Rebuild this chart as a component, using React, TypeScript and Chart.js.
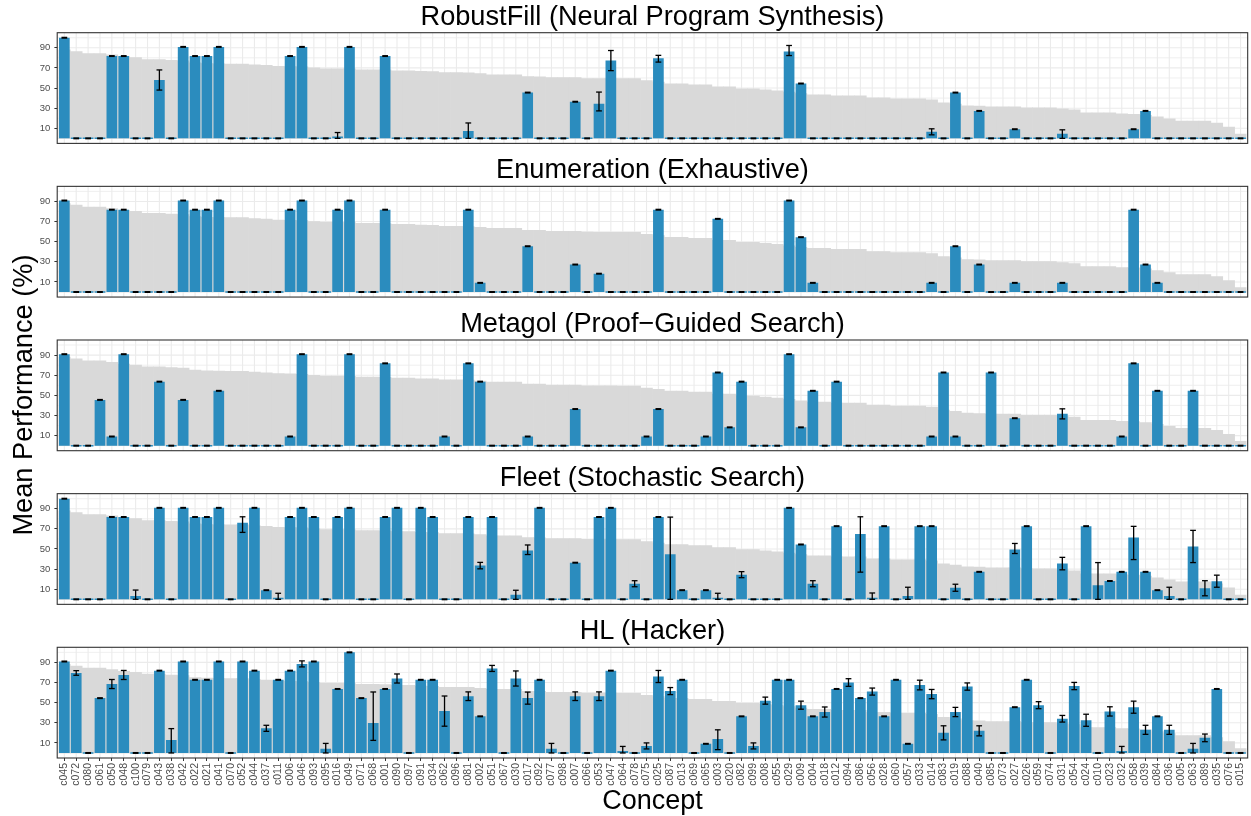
import React, { useEffect, useRef } from "react";
import { Chart, registerables } from "chart.js";

Chart.register(...registerables);

const FONT = '"Liberation Sans", Arial, Helvetica, sans-serif';

// ---------------- data ----------------
const concepts = [
  "c045","c072","c080","c061","c050","c048","c100","c079","c043","c038",
  "c042","c022","c021","c041","c070","c052","c044","c037","c011","c006",
  "c046","c093","c095","c016","c049","c071","c068","c001","c090","c097",
  "c091","c034","c062","c096","c081","c002","c051","c067","c030","c017",
  "c092","c077","c098","c007","c066","c053","c047","c064","c078","c075",
  "c025","c087","c013","c069","c065","c003","c020","c082","c099","c008",
  "c055","c029","c009","c004","c018","c012","c094","c086","c056","c028",
  "c060","c057","c033","c014","c083","c019","c088","c040","c085","c073",
  "c027","c026","c059","c074","c031","c054","c024","c010","c023","c032",
  "c058","c039","c084","c036","c005","c063","c089","c035","c076","c015",
];

// grey background bars (same in every panel)
const referenceScores = [
  88, 86.3, 84.3, 84.3, 82.9, 81, 80.2, 78.3, 78.3, 77.5,
  77, 75, 74.3, 74, 73.9, 73.9, 73, 72.5, 71.6, 71.3,
  71, 70, 69.2, 69.2, 69, 68.2, 68.2, 68, 67.2, 67.2,
  66.5, 66.3, 65.3, 65.3, 65.1, 64.3, 63.2, 63.2, 63.2, 61.3,
  61.2, 60.3, 60.3, 60.3, 59.5, 59.4, 59.4, 59.3, 59.3, 57.3,
  56, 54.3, 54.3, 53.3, 53.3, 51.3, 51.3, 49.3, 49.3, 48.3,
  47.3, 46, 44.5, 43.3, 43.3, 42.3, 42.3, 42.3, 40.3, 40.3,
  39.3, 39.3, 39.3, 38.3, 35.3, 34, 32.3, 32, 31.3, 31.3,
  31.3, 30.3, 30.3, 30.3, 29.3, 28.3, 25.3, 25.3, 25.3, 24.3,
  24, 23, 21.3, 19.3, 17.3, 17.3, 17.3, 15.3, 11.3, 4.3,
];

const robustFillMeans = [
  100, 0, 0, 0, 81.8, 81.8, 0, 0, 58, 0,
  90.9, 81.8, 81.8, 90.9, 0, 0, 0, 0, 0, 81.8,
  90.9, 0, 0, 1.8, 90.9, 0, 0, 81.8, 0, 0,
  0, 0, 0, 0, 7.3, 0, 0, 0, 0, 45.5,
  0, 0, 0, 36.4, 0, 34.3, 77.3, 0, 0, 0,
  79.5, 0, 0, 0, 0, 0, 0, 0, 0, 0,
  0, 86.3, 54.5, 0, 0, 0, 0, 0, 0, 0,
  0, 0, 0, 6.5, 0, 45.5, 0, 27.3, 0, 0,
  9.1, 0, 0, 0, 4.5, 0, 0, 0, 0, 0,
  9.1, 27.3, 0, 0, 0, 0, 0, 0, 0, 0,
];
const robustFillErrors = [
  0, 0, 0, 0, 0, 0, 0, 0, 10, 0,
  0, 0, 0, 0, 0, 0, 0, 0, 0, 0,
  0, 0, 0, [1.8, 4], 0, 0, 0, 0, 0, 0,
  0, 0, 0, 0, [7.3, 8], 0, 0, 0, 0, 0,
  0, 0, 0, 0, 0, [7, 11.7], 10, 0, 0, 0,
  [3.7, 3], 0, 0, 0, 0, 0, 0, 0, 0, 0,
  0, [4, 6], 0, 0, 0, 0, 0, 0, 0, 0,
  0, 0, 0, 3, 0, 0, 0, 0, 0, 0,
  0, 0, 0, 0, [4.5, 4], 0, 0, 0, 0, 0,
  0, 0, 0, 0, 0, 0, 0, 0, 0, 0,
];

const enumerationMeans = [
  90.9, 0, 0, 0, 81.8, 81.8, 0, 0, 0, 0,
  90.9, 81.8, 81.8, 90.9, 0, 0, 0, 0, 0, 81.8,
  90.9, 0, 0, 81.8, 90.9, 0, 0, 81.8, 0, 0,
  0, 0, 0, 0, 81.8, 9.1, 0, 0, 0, 45.5,
  0, 0, 0, 27.3, 0, 18.2, 0, 0, 0, 0,
  81.8, 0, 0, 0, 0, 72.7, 0, 0, 0, 0,
  0, 90.9, 54.5, 9.1, 0, 0, 0, 0, 0, 0,
  0, 0, 0, 9.1, 0, 45.5, 0, 27.3, 0, 0,
  9.1, 0, 0, 0, 9.1, 0, 0, 0, 0, 0,
  81.8, 27.3, 9.1, 0, 0, 0, 0, 0, 0, 0,
];
const enumerationErrors = new Array(100).fill(0);

const metagolMeans = [
  90.9, 0, 0, 45.5, 9.1, 90.9, 0, 0, 63.6, 0,
  45.5, 0, 0, 54.5, 0, 0, 0, 0, 0, 9.1,
  90.9, 0, 0, 0, 90.9, 0, 0, 81.8, 0, 0,
  0, 0, 9.1, 0, 81.8, 63.6, 0, 0, 0, 9.1,
  0, 0, 0, 36.4, 0, 0, 0, 0, 0, 9.1,
  36.4, 0, 0, 0, 9.1, 72.7, 18.2, 63.6, 0, 0,
  0, 90.9, 18.2, 54.5, 0, 63.6, 0, 0, 0, 0,
  0, 0, 0, 9.1, 72.7, 9.1, 0, 0, 72.7, 0,
  27.3, 0, 0, 0, 31.6, 0, 0, 0, 0, 9.1,
  81.8, 0, 54.5, 0, 0, 54.5, 0, 0, 0, 0,
];
const metagolErrors = [
  0, 0, 0, 0, 0, 0, 0, 0, 0, 0,
  0, 0, 0, 0, 0, 0, 0, 0, 0, 0,
  0, 0, 0, 0, 0, 0, 0, 0, 0, 0,
  0, 0, 0, 0, 0, 0, 0, 0, 0, 0,
  0, 0, 0, 0, 0, 0, 0, 0, 0, 0,
  0, 0, 0, 0, 0, 0, 0, 0, 0, 0,
  0, 0, 0, 0, 0, 0, 0, 0, 0, 0,
  0, 0, 0, 0, 0, 0, 0, 0, 0, 0,
  0, 0, 0, 0, 5, 0, 0, 0, 0, 0,
  0, 0, 0, 0, 0, 0, 0, 0, 0, 0,
];

const fleetMeans = [
  100, 0, 0, 0, 81.8, 81.8, 3.3, 0, 90.9, 0,
  90.9, 81.8, 81.8, 90.9, 0, 76, 90.9, 9.1, 1.5, 81.8,
  90.9, 81.8, 0, 81.8, 90.9, 0, 0, 81.8, 90.9, 0,
  90.9, 81.8, 0, 0, 81.8, 33.5, 81.8, 0, 4.5, 48.5,
  90.9, 0, 0, 36.4, 0, 81.8, 90.9, 0, 15.5, 0,
  81.8, 44.7, 9.1, 0, 9.1, 1.5, 0, 24.5, 0, 0,
  0, 90.9, 54.5, 15.5, 0, 72.7, 0, 65, 1.3, 72.7,
  0, 3.3, 72.7, 72.7, 0, 11.5, 0, 27.3, 0, 0,
  49.5, 72.7, 0, 0, 35.5, 0, 72.7, 14, 18.2, 27.3,
  61.5, 27.3, 9.1, 3.3, 0, 52.5, 11, 18, 0, 0,
];
const fleetErrors = [
  0, 0, 0, 0, 0, 0, [3.3, 5.9], 0, 0, 0,
  0, 0, 0, 0, 0, [9.5, 6], 0, 0, [1.5, 4.5], 0,
  0, 0, 0, 0, 0, 0, 0, 0, 0, 0,
  0, 0, 0, 0, 0, 3.2, 0, 0, 4.5, [4, 5.5],
  0, 0, 0, 0, 0, 0, 0, 0, 3, 0,
  0, [44.7, 37], 0, 0, 0, [1.5, 4.5], 0, 3, 0, 0,
  0, 0, 0, 3, 0, 0, 0, [38, 17], [1.3, 5], 0,
  0, [3.3, 8.7], 0, 0, 0, 3.5, 0, 0, 0, 0,
  [4, 6], 0, 0, 0, 6.2, 0, 0, [14, 22.5], 0, 0,
  [22, 11], 0, 0, [3.3, 8.7], 0, 16, 7.5, 6, 0, 0,
];

const hackerMeans = [
  90.9, 79.5, 0, 54.5, 68.5, 77.5, 0, 0, 81.8, 13,
  90.9, 72.7, 72.7, 90.9, 0, 90.9, 81.8, 24.5, 72.7, 81.8,
  88.5, 90.9, 4.3, 63.6, 100, 54.5, 29.8, 63.6, 74, 0,
  72.7, 72.7, 41.6, 0, 56.4, 36.4, 84, 0, 74, 54.5,
  72.7, 4.3, 0, 56.4, 0, 56.4, 81.8, 2, 0, 7,
  76, 61.5, 72.7, 0, 9.1, 14, 0, 36.4, 7, 52,
  72.7, 72.7, 47.5, 36.4, 40.7, 63.6, 70, 54.5, 61, 36.4,
  72.7, 9.1, 67.5, 58.5, 20, 40.7, 66, 22, 0, 0,
  45.5, 72.7, 47.5, 0, 34, 66.5, 32.5, 0, 41.3, 2,
  45.5, 23, 36.4, 23, 0, 4.3, 15, 63.6, 0, 0,
];
const hackerErrors = [
  0, 2.3, 0, 0, 4.5, 4.5, 0, 0, 0, [13, 11.2],
  0, 0, 0, 0, 0, 0, 0, 3, 0, 0,
  3, 0, [4.3, 5.2], 0, 0, 0, [17.3, 30.8], 0, 4.5, 0,
  0, 0, 15, 0, 4.3, 0, 3, 0, 7.5, 6,
  0, [4.3, 5.2], 0, 4.3, 0, 4.3, 0, [2, 4.5], 0, 3,
  6, 3.5, 0, 0, 0, [10.7, 9], 0, 0, 3, 3.5,
  0, 0, 4, 0, 5, 0, 3.8, 0, 3.5, 0,
  0, 0, 4.8, 4.6, 7, 4.6, 3.6, 5, 0, 0,
  0, 0, 3.5, 0, 3.3, 3.6, 6, 0, 4.6, [2, 4.5],
  6, 4.5, 0, 4.5, 0, [4.3, 5.2], 3.8, 0, 0, 0,
];

const yTickValues = [10, 30, 50, 70, 90];

const panels = [
  { title: "RobustFill (Neural Program Synthesis)", means: robustFillMeans, errors: robustFillErrors },
  { title: "Enumeration (Exhaustive)", means: enumerationMeans, errors: enumerationErrors },
  { title: "Metagol (Proof\u2212Guided Search)", means: metagolMeans, errors: metagolErrors },
  { title: "Fleet (Stochastic Search)", means: fleetMeans, errors: fleetErrors },
  { title: "HL (Hacker)", means: hackerMeans, errors: hackerErrors },
];

// ---------------- layout ----------------
const W = 1251;
const H = 816;
const PANEL_TOPS = [32.7, 186.35, 340, 493.65, 647.3];
const PANEL_H = 110.7;
const PLOT_L = 58.4;
const PLOT_R = 1246.5;
const BLUE = "#2b8cbe";
const GREY = "#d9d9d9";
const TITLE_SIZE = 27.2;

type Err = number | [number, number];
const errOf = (e: Err): [number, number] => (Array.isArray(e) ? e : [e, e]);

function Panel({ index, means, errors, showX }: { index: number; means: number[]; errors: Err[]; showX: boolean }) {
  const ref = useRef<HTMLCanvasElement>(null);
  const top = PANEL_TOPS[index];
  const canvasTop = Math.floor(top - 8);
  const padTop = top - canvasTop;
  const canvasH = showX ? H - canvasTop : Math.ceil(top + PANEL_H + 8) - canvasTop;
  const padBottom = showX ? 0 : canvasH - padTop - PANEL_H;

  useEffect(() => {
    if (!ref.current) return;
    const line = (ctx: CanvasRenderingContext2D, x1: number, y1: number, x2: number, y2: number) => {
      ctx.beginPath();
      ctx.moveTo(x1, y1);
      ctx.lineTo(x2, y2);
      ctx.stroke();
    };
    const panelPlugin = {
      id: "panelDecor",
      beforeDatasetsDraw(chart: any) {
        const { ctx, chartArea: a, scales } = chart;
        const x = scales.x;
        const y = scales.y;
        const slot = (a.right - a.left) / concepts.length;
        const L = a.left - 0.1 * slot;
        const R = a.right + 0.1 * slot;
        ctx.save();
        ctx.fillStyle = "#ffffff";
        ctx.fillRect(L, a.top, R - L, a.bottom - a.top);
        ctx.strokeStyle = "#ebebeb";
        for (let v = 0; v <= 100; v += 10) {
          const py = y.getPixelForValue(v);
          ctx.lineWidth = v % 20 === 10 ? 1.1 : 0.8;
          line(ctx, L, py, R, py);
        }
        ctx.lineWidth = 1.1;
        for (let i = 0; i < concepts.length; i++) {
          const px = x.getPixelForValue(i);
          line(ctx, px, a.top, px, a.bottom);
        }
        ctx.restore();
      },
      afterDatasetsDraw(chart: any) {
        const { ctx, chartArea: a, scales } = chart;
        const y = scales.y;
        const meta = chart.getDatasetMeta(0);
        ctx.save();
        ctx.strokeStyle = "#000000";
        meta.data.forEach((bar: any, i: number) => {
          const [dn, up] = errOf(errors[i]);
          const m = means[i];
          const yTop = y.getPixelForValue(m + up);
          const yBot = y.getPixelForValue(m - dn);
          const half = bar.width * 0.27;
          if (up === 0 && dn === 0) {
            ctx.lineWidth = 2;
            line(ctx, bar.x - half, yTop, bar.x + half, yTop);
          } else {
            ctx.lineWidth = 1.3;
            line(ctx, bar.x, yTop, bar.x, yBot);
            line(ctx, bar.x - half, yTop, bar.x + half, yTop);
            line(ctx, bar.x - half, yBot, bar.x + half, yBot);
          }
        });
        const slot = (a.right - a.left) / concepts.length;
        const L = a.left - 0.1 * slot;
        const R = a.right + 0.1 * slot;
        ctx.strokeStyle = "#333333";
        ctx.lineWidth = 1.1;
        ctx.strokeRect(L, a.top, R - L, a.bottom - a.top);
        ctx.restore();
      },
    };

    const chart = new Chart(ref.current, {
      type: "bar",
      data: {
        labels: concepts,
        datasets: [
          {
            data: means,
            backgroundColor: BLUE,
            barPercentage: 0.9,
            categoryPercentage: 1,
            grouped: false,
            order: 1,
            minBarLength: 1.5,
          } as any,
          {
            data: referenceScores,
            backgroundColor: GREY,
            barPercentage: 1,
            categoryPercentage: 1,
            grouped: false,
            order: 2,
          } as any,
        ],
      },
      options: {
        responsive: false,
        maintainAspectRatio: false,
        animation: false,
        events: [],
        layout: { padding: { top: padTop, bottom: padBottom, left: 0, right: W - PLOT_R } },
        plugins: { legend: { display: false }, tooltip: { enabled: false }, title: { display: false } },
        scales: {
          x: {
            type: "category",
            display: showX,
            offset: true,
            grid: { display: true, drawOnChartArea: false, drawTicks: true, tickLength: 3, color: "#333333", offset: false },
            border: { display: false },
            ticks: {
              autoSkip: false,
              minRotation: 90,
              maxRotation: 90,
              padding: 2,
              color: "#4d4d4d",
              font: { family: FONT, size: 10.5 },
            },
            afterFit: (s: any) => {
              s.height = showX ? canvasH - padTop - PANEL_H : 0;
              s.paddingLeft = 0;
              s.paddingRight = 0;
            },
          },
          y: {
            min: -5,
            max: 105,
            afterBuildTicks: (s: any) => {
              s.ticks = yTickValues.map((v) => ({ value: v }));
            },
            afterFit: (s: any) => {
              s.width = PLOT_L;
              s.paddingTop = 0;
              s.paddingBottom = 0;
            },
            grid: { drawOnChartArea: false, drawTicks: true, tickLength: 4, color: "#333333" },
            border: { display: false },
            ticks: { padding: 4, color: "#4d4d4d", font: { family: FONT, size: 9.5 } },
          },
        },
      } as any,
      plugins: [panelPlugin],
    });
    return () => chart.destroy();
  }, []);

  return (
    <canvas
      ref={ref}
      width={W}
      height={canvasH}
      style={{ position: "absolute", left: 0, top: canvasTop, width: W, height: canvasH }}
    />
  );
}

export default function App() {
  return (
    <div style={{ position: "absolute", left: 0, top: 0, width: W, height: H, background: "#ffffff", overflow: "hidden", fontFamily: FONT }}>
      {panels.map((p, i) => (
        <React.Fragment key={p.title}>
          <Panel index={i} means={p.means} errors={p.errors} showX={i === panels.length - 1} />
          <div
            style={{
              position: "absolute",
              left: PLOT_L - 1.2,
              width: PLOT_R - PLOT_L + 2.4,
              top: PANEL_TOPS[i] - 16.7 - TITLE_SIZE * 0.6,
              height: TITLE_SIZE * 1.2,
              lineHeight: `${TITLE_SIZE * 1.2}px`,
              fontSize: TITLE_SIZE,
              textAlign: "center",
              color: "#000000",
              whiteSpace: "nowrap",
            }}
          >
            {p.title}
          </div>
        </React.Fragment>
      ))}
      <div
        style={{
          position: "absolute",
          left: 23 - 200,
          top: 395 - 16,
          width: 400,
          height: 32,
          lineHeight: "32px",
          fontSize: 27.2,
          textAlign: "center",
          transform: "rotate(-90deg)",
          color: "#000000",
          whiteSpace: "nowrap",
        }}
      >
        Mean Performance (%)
      </div>
      <div
        style={{
          position: "absolute",
          left: PLOT_L,
          width: PLOT_R - PLOT_L,
          top: 800 - 16,
          height: 32,
          lineHeight: "32px",
          fontSize: 27,
          textAlign: "center",
          color: "#000000",
          whiteSpace: "nowrap",
        }}
      >
        Concept
      </div>
    </div>
  );
}
